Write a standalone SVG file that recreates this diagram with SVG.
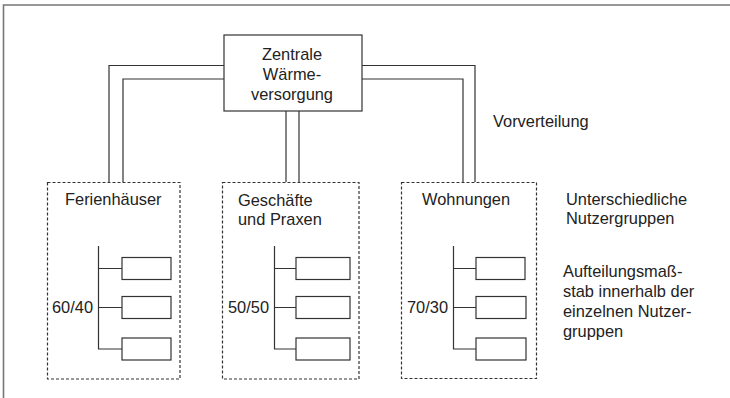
<svg xmlns="http://www.w3.org/2000/svg" width="730" height="398" viewBox="0 0 730 398">
<style>
text{font-family:"Liberation Sans",Arial,sans-serif;font-size:16.4px;fill:#222}
.pipe{fill:none;stroke:#333;stroke-width:1.2}
.box{fill:#fff;stroke:#333;stroke-width:1.2}
.grp{fill:none;stroke:#333;stroke-width:1.2;stroke-dasharray:3 2}
.tree{fill:none;stroke:#333;stroke-width:1.2}
.mid{text-anchor:middle}
</style>
<rect width="730" height="398" fill="#fff"/>
<path d="M3.5,398 V5 H730" fill="none" stroke="#777" stroke-width="1.6"/>
<g id="connectors">
<path class="pipe" d="M224,65.5 H109 V182"/>
<path class="pipe" d="M224,79 H123 V182"/>
<path class="pipe" d="M362,65.5 H475 V182"/>
<path class="pipe" d="M362,79 H463 V182"/>
<path class="pipe" d="M286,111 V182"/>
<path class="pipe" d="M299,111 V182"/>
</g>
<g id="zentrale">
<rect class="box" x="224" y="35" width="138" height="76"/>
<text class="mid" x="292" y="60">Zentrale</text>
<text class="mid" x="292" y="80">Wärme-</text>
<text class="mid" x="292" y="100">versorgung</text>
</g>
<g id="ferienhaeuser">
<rect class="grp" x="47.5" y="182.5" width="132.5" height="196.5"/>
<text x="65" y="205">Ferienhäuser</text>
<path class="tree" d="M98.5,246 V349 H122 M98.5,268.5 H122 M98.5,307.5 H122"/>
<rect class="box" x="122" y="257.5" width="49" height="22"/>
<rect class="box" x="122" y="296.5" width="49" height="22"/>
<rect class="box" x="122" y="338" width="49" height="22"/>
<text x="52" y="313">60/40</text>
</g>
<g id="geschaefte">
<rect class="grp" x="222.5" y="182.5" width="136.5" height="196.5"/>
<text x="238" y="206">Geschäfte</text>
<text x="238" y="225">und Praxen</text>
<path class="tree" d="M274.5,246 V349 H296 M274.5,268.5 H296 M274.5,307.5 H296"/>
<rect class="box" x="296" y="257.5" width="54" height="22"/>
<rect class="box" x="296" y="296.5" width="54" height="22"/>
<rect class="box" x="296" y="338" width="54" height="22"/>
<text x="228" y="313">50/50</text>
</g>
<g id="wohnungen">
<rect class="grp" x="401.5" y="182.5" width="135" height="196"/>
<text x="422" y="205">Wohnungen</text>
<path class="tree" d="M453.5,246 V349 H476 M453.5,268.5 H476 M453.5,307.5 H476"/>
<rect class="box" x="476" y="257.5" width="49" height="22"/>
<rect class="box" x="476" y="296.5" width="50" height="22"/>
<rect class="box" x="476" y="338" width="50" height="22"/>
<text x="407" y="313">70/30</text>
</g>
<g id="labels">
<text x="493" y="127">Vorverteilung</text>
<text x="566" y="205">Unterschiedliche</text>
<text x="566" y="224">Nutzergruppen</text>
<text x="563" y="277">Aufteilungsmaß-</text>
<text x="563" y="297">stab innerhalb der</text>
<text x="563" y="317">einzelnen Nutzer-</text>
<text x="563" y="337">gruppen</text>
</g>
</svg>
